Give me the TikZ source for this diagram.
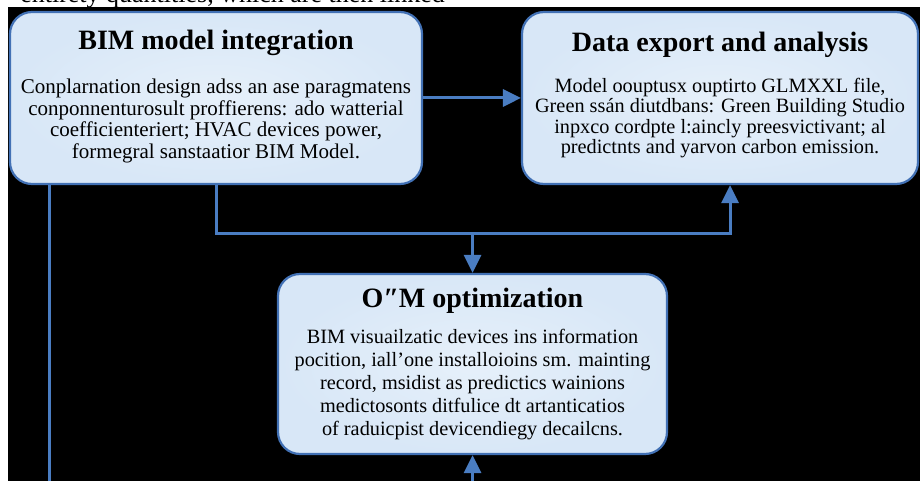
\documentclass[tikz,border=0pt]{standalone}
\usepackage{fontspec}
\setmainfont{Liberation Serif}
\usetikzlibrary{arrows.meta}
\definecolor{boxfill}{HTML}{D8E7F7}
\definecolor{boxinner}{HTML}{E6F0FA}
\definecolor{boxline}{HTML}{4271B5}
\definecolor{arrcol}{HTML}{4A7DC2}
\tikzset{
  panel/.style={draw=boxline, line width=2.2pt, inner color=boxinner, outer color=boxfill, rounded corners=22pt, inner sep=0pt},
  ttl/.style={inner sep=0pt, font=\fontsize{28}{30}\selectfont\bfseries},
  bodytxt/.style={inner sep=0pt, align=center},
  link/.style={draw=arrcol, line width=3pt},
  arr/.style={link, -{Triangle[length=18pt,width=17pt]}}
}
\begin{document}
\begin{tikzpicture}[x=1pt,y=-1pt]
\useasboundingbox (0,0) rectangle (920,481);
\fill[white] (0,0) rectangle (920,481);
\node[anchor=base east, inner sep=0pt, font=\fontsize{26}{28}\selectfont] (top) at (445,3) {entirety quantities, which are then linked};
\fill[black] (8,7) rectangle (922,483);

\node[panel, minimum width=412pt, minimum height=172pt] (b1) at (216,98) {};
\node[panel, minimum width=396pt, minimum height=172pt] (b2) at (720,98) {};
\node[panel, minimum width=389pt, minimum height=180pt] (b3) at (472.5,364) {};

\node[ttl] (t1) at (216,43) {BIM model integration};
\node[bodytxt, font=\fontsize{21}{21.5}\selectfont] (d1) at (216,121) {Conplarnation design adss an ase paragmatens\\conponnenturosult proffierens: ado watterial\\coefficienteriert; HVAC devices power,\\formegral sanstaatior BIM Model.};

\node[ttl] (t2) at (720,45) {Data export and analysis};
\node[bodytxt, font=\fontsize{20.3}{20.5}\selectfont] (d2) at (720,118) {Model oouptusx ouptirto GLMXXL file,\\Green ssán diutdbans: Green Building Studio\\inpxco cordpte l:aincly preesvictivant; al\\predictnts and yarvon carbon emission.};

\node[ttl] (t3) at (472.5,301) {O″M optimization};
\node[bodytxt, font=\fontsize{20.3}{23}\selectfont] (d3) at (472.5,385) {BIM visuailzatic devices ins information\\pocition, iall'one installoioins sm. mainting\\record, msidist as predictics wainions\\medictosonts ditfulice dt artanticatios\\of raduicpist devicendiegy decailcns.};

\coordinate (j) at (472.5,233);
\coordinate (r) at (730,233);
\coordinate (bot) at (472.5,481);
\coordinate (lb) at (49,481);

\draw[arr] (b1.east) -- (b2.west);
\draw[link] (b1.south) |- (j);
\draw[arr] (j) -| (r |- b2.south);
\draw[arr] (j) -- (b3.north);
\draw[arr] (bot) -- (b3.south);
\draw[link] (lb |- b1.south) -- (lb);
\end{tikzpicture}
\end{document}
